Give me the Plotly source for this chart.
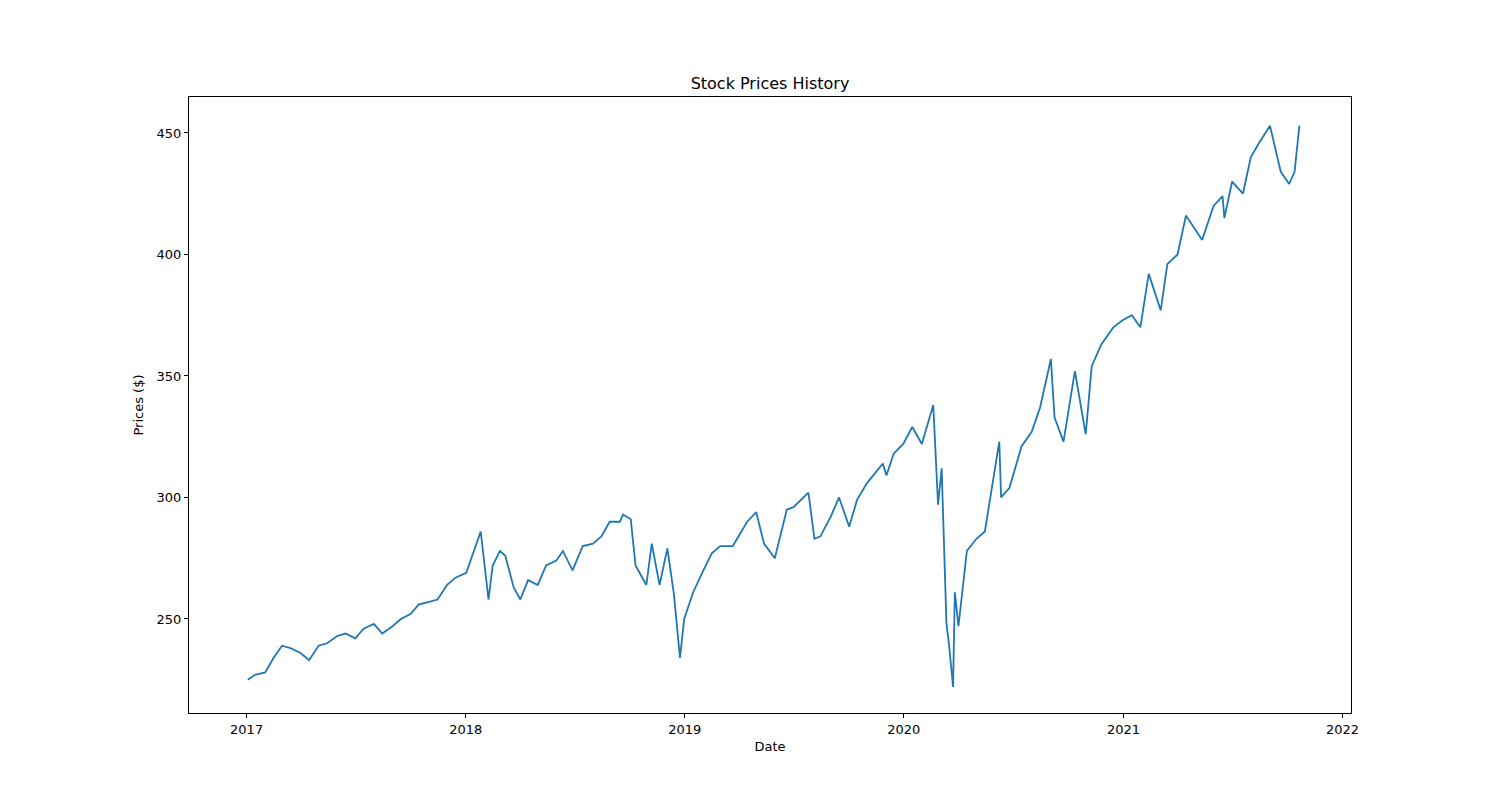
import plotly.graph_objects as go

dates = [
    "2017-01-03", "2017-01-15", "2017-02-01", "2017-02-15", "2017-03-01", "2017-03-15", "2017-04-01", "2017-04-15",
    "2017-05-01", "2017-05-15", "2017-06-01", "2017-06-15", "2017-07-01", "2017-07-15", "2017-08-01", "2017-08-15",
    "2017-09-01", "2017-09-15", "2017-10-01", "2017-10-15", "2017-11-01", "2017-11-15", "2017-12-01", "2017-12-15",
    "2018-01-02", "2018-01-15", "2018-01-26", "2018-02-08", "2018-02-15", "2018-02-27", "2018-03-08", "2018-03-22",
    "2018-04-02", "2018-04-15", "2018-05-01", "2018-05-15", "2018-06-01", "2018-06-12", "2018-06-28", "2018-07-15",
    "2018-08-01", "2018-08-15", "2018-08-29", "2018-09-15", "2018-09-20", "2018-10-03", "2018-10-11", "2018-10-29",
    "2018-11-07", "2018-11-20", "2018-12-03", "2018-12-14", "2018-12-24", "2018-12-31",
    "2019-01-15", "2019-02-01", "2019-02-15", "2019-03-01", "2019-03-22", "2019-04-15", "2019-04-30", "2019-05-13",
    "2019-05-31", "2019-06-20", "2019-07-01", "2019-07-26", "2019-08-05", "2019-08-15", "2019-09-01", "2019-09-15",
    "2019-10-02", "2019-10-15", "2019-11-01", "2019-11-27", "2019-12-03", "2019-12-15", "2019-12-31",
    "2020-01-15", "2020-01-31", "2020-02-19", "2020-02-27", "2020-03-04", "2020-03-12", "2020-03-16", "2020-03-23",
    "2020-03-26", "2020-04-01", "2020-04-15", "2020-05-01", "2020-05-15", "2020-06-08", "2020-06-11", "2020-06-25",
    "2020-07-15", "2020-08-01", "2020-08-15", "2020-09-02", "2020-09-08", "2020-09-23", "2020-10-12", "2020-10-30",
    "2020-11-09", "2020-11-25", "2020-12-15", "2020-12-31",
    "2021-01-15", "2021-01-29", "2021-02-12", "2021-03-04", "2021-03-15", "2021-04-01", "2021-04-15", "2021-05-12",
    "2021-05-31", "2021-06-15", "2021-06-18", "2021-07-01", "2021-07-19", "2021-08-01", "2021-08-15", "2021-09-02",
    "2021-09-20", "2021-10-04", "2021-10-13", "2021-10-21",
]
prices = [
    225, 227, 228, 234, 239, 238, 236, 233,
    239, 240, 243, 244, 242, 246, 248, 244,
    247, 250, 252, 256, 257, 258, 264, 267,
    269, 278, 286, 258, 272, 278, 276, 263,
    258, 266, 264, 272, 274, 278, 270, 280,
    281, 284, 290, 290, 293, 291, 272, 264,
    281, 264, 279, 260, 234, 250,
    261, 270, 277, 280, 280, 290, 294, 281,
    275, 295, 296, 302, 283, 284, 292, 300,
    288, 299, 306, 314, 309, 318, 322,
    329, 322, 338, 297, 312, 248, 240, 222,
    261, 247, 278, 283, 286, 323, 300, 304,
    321, 327, 337, 357, 333, 323, 352, 326,
    354, 363, 370, 373,
    375, 370, 392, 377, 396, 400, 416, 406,
    420, 424, 415, 430, 425, 440, 446, 453,
    434, 429, 434, 453,
]

fig = go.Figure(go.Scatter(x=dates, y=prices, mode="lines",
                           line=dict(color="#1f77b4", width=1.8)))

axis = dict(showline=True, linecolor="black", linewidth=1, mirror=True,
            ticks="outside", ticklen=4, tickcolor="black", showgrid=False,
            zeroline=False, tickfont=dict(size=13, color="black"))
fig.update_layout(
    width=1500, height=800,
    paper_bgcolor="white", plot_bgcolor="white",
    font=dict(family="DejaVu Sans", size=13, color="black"),
    margin=dict(l=181, r=157, t=89, b=95),
    title=dict(text="Stock Prices History", x=0.5, xref="paper", y=1 - 75 / 800,
               yanchor="middle", font=dict(size=16)),
    showlegend=False,
)
fig.update_xaxes(axis, range=["2016-09-27", "2022-01-15"], dtick="M12",
                 tickformat="%Y", title=dict(text="Date", standoff=6, font=dict(size=13)))
fig.update_yaxes(axis, range=[211.3, 464.8], tickvals=[250, 300, 350, 400, 450],
                 title=dict(text="Prices ($)", standoff=10, font=dict(size=13)))

fig.write_html("out.html")
